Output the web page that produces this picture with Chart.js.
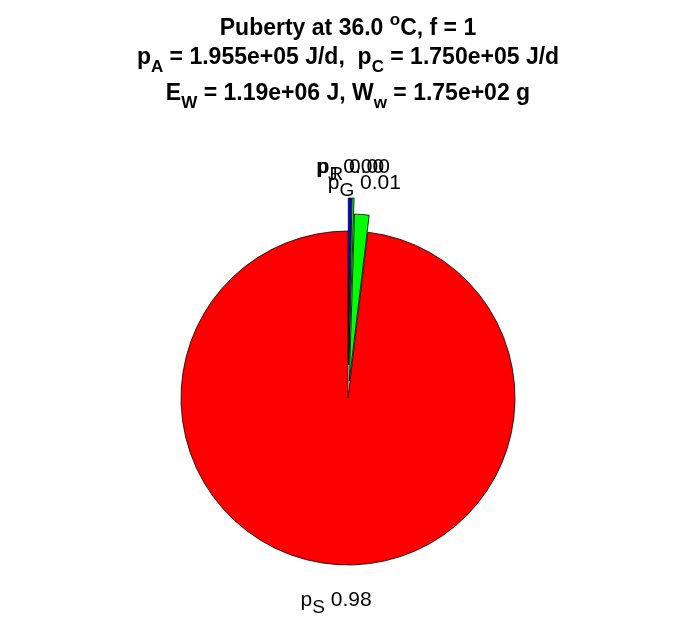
<!DOCTYPE html>
<html>
<head>
<meta charset="utf-8">
<script src="https://cdn.jsdelivr.net/npm/chart.js@4/dist/chart.umd.min.js"></script>
<style>
html,body{margin:0;padding:0;background:#fff;}
#wrap{width:696px;height:618px;position:relative;}
</style>
</head>
<body>
<div id="wrap"><canvas id="c" width="696" height="618"></canvas></div>
<script>
// ---- data ----
const sliceNames = ['p', 'p', 'p', 'p'];
const sliceSubs = ['J', 'R', 'G', 'S'];
const sliceValues = [0.003, 0.002, 0.014, 0.981];
const sliceColors = ['#0000ff', '#00ff00', '#00ff00', '#ff0000'];
const sliceExplode = [33, 33, 17, 0];

const titleLines = [
  [['Puberty at 36.0 ', 'n'], ['o', 'sup'], ['C, f = 1', 'n']],
  [['p', 'n'], ['A', 'sub'], [' = 1.955e+05 J/d,  p', 'n'], ['C', 'sub'], [' = 1.750e+05 J/d', 'n']],
  [['E', 'n'], ['W', 'sub'], [' = 1.19e+06 J, W', 'n'], ['w', 'sub'], [' = 1.75e+02 g', 'n']]
];
const titleBaselines = [35, 64, 100];

const FONT = '"Liberation Sans", Arial, sans-serif';

function drawRich(ctx, parts, cx, y, size, weight, subScale, subDrop) {
  const subSize = Math.round(size * subScale);
  let total = 0;
  const widths = parts.map(([t, k]) => {
    ctx.font = weight + ' ' + (k === 'n' ? size : subSize) + 'px ' + FONT;
    const w = ctx.measureText(t).width;
    total += w;
    return w;
  });
  let x = cx - total / 2;
  parts.forEach(([t, k], i) => {
    ctx.font = weight + ' ' + (k === 'n' ? size : subSize) + 'px ' + FONT;
    let dy = 0;
    if (k === 'sub') dy = subDrop;
    if (k === 'sup') dy = -size * 0.45;
    ctx.fillText(t, x, y + dy);
    x += widths[i];
  });
  return total;
}

// explode slices: move each arc's centre along its bisector
const explode = {
  id: 'explode',
  afterDatasetsUpdate(chart) {
    const meta = chart.getDatasetMeta(0);
    meta.data.forEach((arc, i) => {
      if (arc._baseX === undefined) { arc._baseX = arc.x; arc._baseY = arc.y; }
      const mid = (arc.startAngle + arc.endAngle) / 2;
      arc.x = arc._baseX + Math.cos(mid) * sliceExplode[i];
      arc.y = arc._baseY + Math.sin(mid) * sliceExplode[i];
    });
  }
};

const overlay = {
  id: 'overlay',
  afterDraw(chart) {
    const ctx = chart.ctx;
    ctx.save();
    ctx.fillStyle = '#000';
    ctx.textBaseline = 'alphabetic';
    ctx.textAlign = 'left';
    titleLines.forEach((line, i) => drawRich(ctx, line, 348, titleBaselines[i], 23, 'bold', 0.75, 8));
    const meta = chart.getDatasetMeta(0);
    const total = sliceValues.reduce((a, b) => a + b, 0);
    meta.data.forEach((arc, i) => {
      const mid = (arc.startAngle + arc.endAngle) / 2;
      const d = arc.outerRadius * 1.2;
      const px = arc.x + Math.cos(mid) * d;
      const py = arc.y + Math.sin(mid) * d;
      const frac = (sliceValues[i] / total).toFixed(2);
      drawRich(ctx, [[sliceNames[i], 'n'], [sliceSubs[i], 'sub'], [' ' + frac, 'n']], px, py + 8, 21, 'normal', 0.9, 7);
    });
    ctx.restore();
  }
};

new Chart(document.getElementById('c'), {
  type: 'pie',
  data: {
    labels: sliceSubs.map((s, i) => sliceNames[i] + '_' + s),
    datasets: [{
      data: sliceValues,
      backgroundColor: sliceColors,
      borderColor: '#000',
      borderWidth: 0.8,
      hoverOffset: 0
    }]
  },
  options: {
    responsive: false,
    animation: false,
    radius: 167,
    layout: { padding: { left: 0, right: 0, top: 200, bottom: 22 } },
    plugins: { legend: { display: false }, tooltip: { enabled: false }, title: { display: false } },
    events: []
  },
  plugins: [explode, overlay]
});
</script>
</body>
</html>
